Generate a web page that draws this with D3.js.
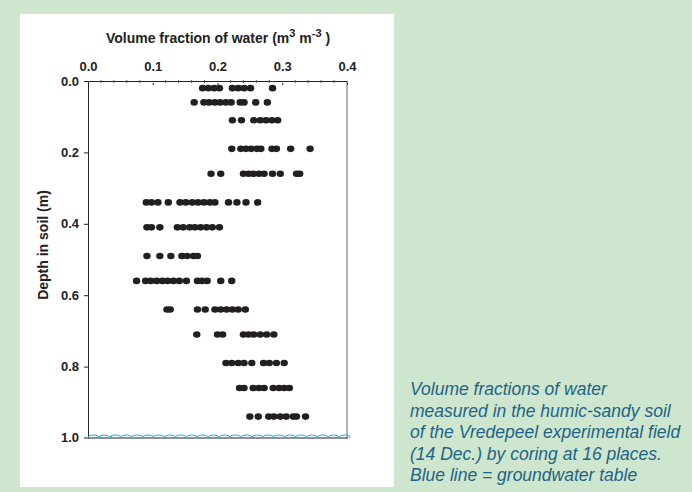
<!DOCTYPE html>
<html>
<head>
<meta charset="utf-8">
<script src="https://cdn.jsdelivr.net/npm/d3@7"></script>
<style>
  body { margin: 0; background: #cde6cd; }
  svg { display: block; }
</style>
</head>
<body>
<div id="chart"></div>
<script>
// depths (m) of the coring samples, one row of dots per depth
const depths = [0.02, 0.06, 0.11, 0.19, 0.26, 0.34, 0.41, 0.49, 0.56, 0.64, 0.71, 0.79, 0.86, 0.94];

// volume fraction of water read per depth
const fractions = [
  [0.177, 0.186, 0.195, 0.203, 0.223, 0.232, 0.241, 0.251, 0.285],
  [0.164, 0.179, 0.187, 0.196, 0.204, 0.213, 0.221, 0.235, 0.241, 0.259, 0.277],
  [0.223, 0.237, 0.256, 0.266, 0.275, 0.284, 0.293],
  [0.222, 0.236, 0.244, 0.252, 0.261, 0.267, 0.284, 0.291, 0.313, 0.343],
  [0.190, 0.205, 0.240, 0.248, 0.255, 0.264, 0.272, 0.285, 0.297, 0.322, 0.327],
  [0.090, 0.098, 0.108, 0.124, 0.142, 0.151, 0.161, 0.170, 0.179, 0.188, 0.196, 0.217, 0.230, 0.244, 0.262],
  [0.091, 0.098, 0.111, 0.138, 0.147, 0.157, 0.165, 0.174, 0.183, 0.192, 0.203],
  [0.091, 0.111, 0.128, 0.145, 0.153, 0.163, 0.169],
  [0.075, 0.089, 0.097, 0.106, 0.115, 0.123, 0.132, 0.141, 0.152, 0.169, 0.176, 0.184, 0.205, 0.222],
  [0.122, 0.127, 0.169, 0.181, 0.196, 0.205, 0.214, 0.223, 0.232, 0.243],
  [0.168, 0.200, 0.208, 0.240, 0.248, 0.256, 0.266, 0.276, 0.287],
  [0.213, 0.222, 0.232, 0.241, 0.253, 0.271, 0.280, 0.291, 0.303],
  [0.234, 0.241, 0.255, 0.264, 0.272, 0.286, 0.295, 0.303, 0.311],
  [0.250, 0.263, 0.279, 0.287, 0.297, 0.306, 0.317, 0.322, 0.336]
];

const xTicks = [0.0, 0.1, 0.2, 0.3, 0.4];
const yTicks = [0.0, 0.2, 0.4, 0.6, 0.8, 1.0];
const groundwater = 1.0;
const captionLines = [
  "Volume fractions of water",
  "measured in the humic-sandy soil",
  "of the Vredepeel experimental field",
  "(14 Dec.) by coring at 16 places.",
  "Blue line = groundwater table"
];

var W = 692, H = 492;
var svg = d3.select("#chart").append("svg").attr("width", W).attr("height", H);

svg.append("rect").attr("width", W).attr("height", H).attr("fill", "#cde6cd");
svg.append("rect") // white panel behind the chart
  .attr("x", 20).attr("y", 14).attr("width", 374).attr("height", 473)
  .attr("fill", "#fff");

var x = d3.scaleLinear().domain([0, 0.4]).range([88, 347]),
    y = d3.scaleLinear().domain([0, 1]).range([81, 438]);

var font = "Liberation Sans, Arial, sans-serif";
var ink = "#222";

// right border
svg.append("line")
  .attr("x1", x(0.4)).attr("x2", x(0.4)).attr("y1", y(0)).attr("y2", y(1))
  .style("stroke", "#666").style("stroke-width", 1);

// top axis
var topAxis = svg.append("g").attr("transform", "translate(0," + y(0) + ")");
topAxis.call(d3.axisTop(x).tickValues(xTicks).tickFormat(d3.format(".1f")).tickSizeInner(-4).tickSizeOuter(0));
topAxis.select(".domain").style("stroke", ink);
topAxis.selectAll(".tick line").style("stroke", ink).attr("y1", 2);
topAxis.selectAll(".tick text")
  .attr("y", -10)
  .style("font-family", font).style("font-size", "13px").style("font-weight", "bold").style("fill", ink);
topAxis.selectAll(".minor")
  .data(d3.range(0.02, 0.4, 0.02).filter(function(v) { return Math.abs(v * 10 - Math.round(v * 10)) > 0.01; }))
  .enter().append("line")
  .attr("x1", function(d) { return x(d); }).attr("x2", function(d) { return x(d); })
  .attr("y1", -1).attr("y2", 2)
  .style("stroke", "#555");

// left axis
var leftAxis = svg.append("g").attr("transform", "translate(" + x(0) + ",0)");
leftAxis.call(d3.axisLeft(y).tickValues(yTicks.slice(0, -1)).tickFormat(d3.format(".1f")).tickSize(4).tickSizeOuter(0));
leftAxis.select(".domain").style("stroke", ink);
leftAxis.selectAll(".tick line").style("stroke", ink);
leftAxis.selectAll(".tick text")
  .attr("x", -9)
  .style("font-family", font).style("font-size", "13px").style("font-weight", "bold").style("fill", ink);

// the 1.0 label sits on the bottom line
svg.append("text")
  .attr("x", x(0) - 9).attr("y", y(groundwater)).attr("dy", "0.32em")
  .attr("text-anchor", "end")
  .style("font-family", font).style("font-size", "13px").style("font-weight", "bold").style("fill", ink)
  .text(d3.format(".1f")(groundwater));

svg.append("line")
  .attr("x1", x(0) - 4).attr("x2", x(0.4) + 1).attr("y1", y(groundwater)).attr("y2", y(groundwater))
  .style("stroke", ink).style("stroke-width", 1.2);

// groundwater table: blue scalloped line
var waves = d3.range(0, 24);
var step = (x(0.4) + 3 - x(0)) / waves.length;
var wavePath = "M" + x(0) + "," + y(groundwater);
waves.forEach(function(i) {
  wavePath += " a" + (step / 2) + "," + 3 + " 0 0 1 " + step + ",0";
});
svg.append("path")
  .attr("d", wavePath)
  .style("fill", "none").style("stroke", "#29aee4").style("stroke-width", 1.2);

// dots
var pts = [];
depths.forEach(function(dep, i) {
  fractions[i].forEach(function(v) { pts.push({depth: dep, value: v}); });
});
svg.append("g").selectAll("ellipse")
  .data(pts)
  .enter().append("ellipse")
  .attr("cx", function(d) { return x(d.value); })
  .attr("cy", function(d) { return y(d.depth); })
  .attr("rx", 3.7).attr("ry", 3.3)
  .style("fill", "#231f20");

// axis titles
var title = svg.append("text")
  .attr("x", 218).attr("y", 43)
  .attr("text-anchor", "middle")
  .style("font-family", font).style("font-size", "14px").style("font-weight", "bold").style("fill", ink);
title.append("tspan").text("Volume fraction of water (m");
title.append("tspan").attr("dy", -6).style("font-size", "11px").text("3");
title.append("tspan").attr("dy", 6).text(" m");
title.append("tspan").attr("dy", -6).style("font-size", "11px").text("-3");
title.append("tspan").attr("dy", 6).text(" )");

svg.append("text")
  .attr("transform", "translate(48,245) rotate(-90)")
  .attr("text-anchor", "middle")
  .style("font-family", font).style("font-size", "14px").style("font-weight", "bold").style("fill", ink)
  .text("Depth in soil (m)");

// caption
svg.append("g").selectAll("text")
  .data(captionLines)
  .enter().append("text")
  .attr("x", 410)
  .attr("y", function(d, i) { return 395 + i * 21.6; })
  .style("font-family", font).style("font-size", "17.5px").style("font-style", "italic")
  .style("fill", "#1f6388")
  .text(function(d) { return d; });
</script>
</body>
</html>
